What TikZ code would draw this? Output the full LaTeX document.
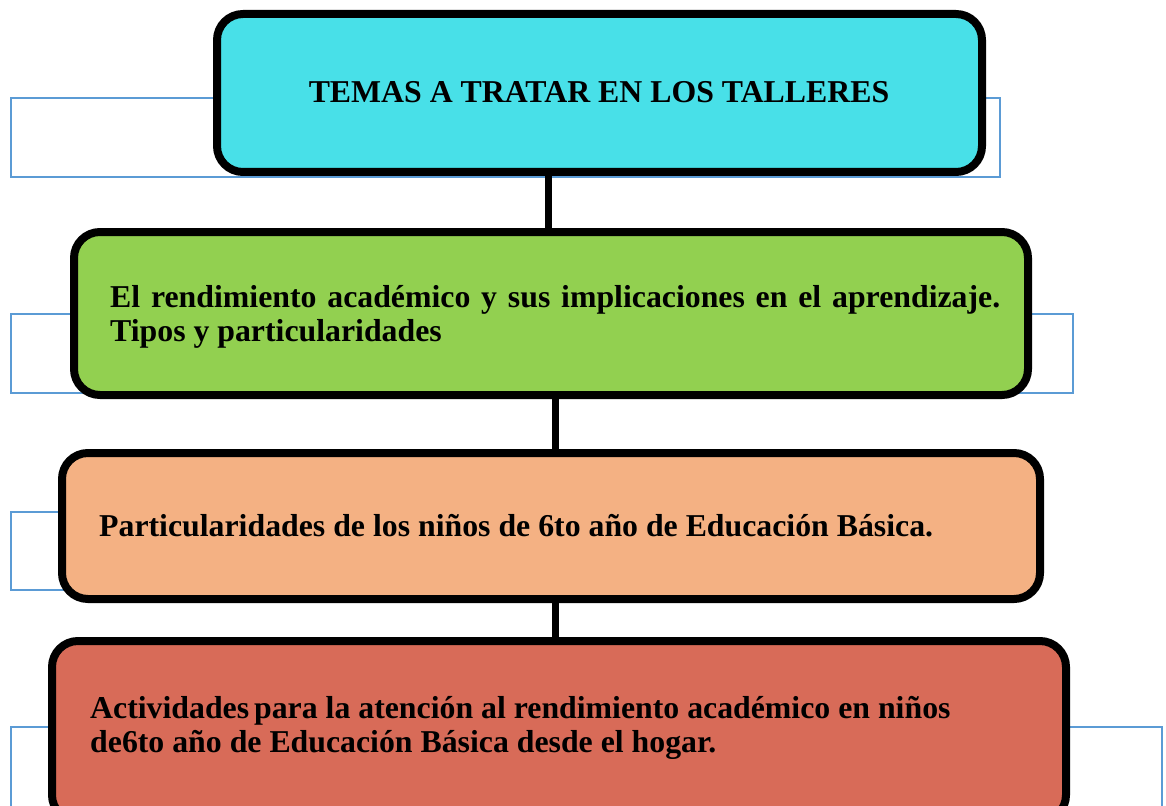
\documentclass[tikz,border=0pt]{standalone}
\usepackage{fontspec}
\setmainfont{Liberation Serif}
\definecolor{cyanbox}{HTML}{48E0E8}
\definecolor{greenbox}{HTML}{92D050}
\definecolor{orangebox}{HTML}{F4B183}
\definecolor{redbox}{HTML}{D86B58}
\definecolor{blueline}{HTML}{5B9BD5}
\tikzset{
  backrect/.style={draw=blueline, line width=2pt},
  topic/.style={draw=black, line width=8pt, rounded corners=26pt, inner sep=0pt},
  linkline/.style={draw=black, line width=7pt},
  topictext/.style={font=\bfseries\fontsize{31.8}{34}\selectfont, inner sep=0pt, align=left}
}
\begin{document}
\begin{tikzpicture}[x=1pt,y=-1pt]
\useasboundingbox (0,0) rectangle (1166,805);
\clip (0,0) rectangle (1166,805);
% background blue outlines
\draw[backrect] (11,98) rectangle (1000,177);
\draw[backrect] (11,314) rectangle (1073,393);
\draw[backrect] (11,512) rectangle (1000,590);
\draw[backrect] (11,727) rectangle (1162,830);
% boxes
\node[topic, fill=cyanbox, minimum width=765pt, minimum height=158pt] (b1) at (599.5,93) {};
\node[topic, fill=greenbox, minimum width=954pt, minimum height=163pt] (b2) at (551,313.5) {};
\node[topic, fill=orangebox, minimum width=978pt, minimum height=146pt] (b3) at (551,526) {};
\node[topic, fill=redbox, minimum width=1014pt, minimum height=180pt] (b4) at (559,731) {};
% connectors
\draw[linkline] (548,0 |- b1.south) -- (548,0 |- b2.north);
\draw[linkline] (555,0 |- b2.south) -- (555,0 |- b3.north);
\draw[linkline] (555,0 |- b3.south) -- (555,0 |- b4.north);
% texts
\node[topictext, anchor=center] (t1) at (599,92) {TEMAS A TRATAR EN LOS TALLERES};
\node[topictext, anchor=west] (t2) at (110,317) {\makebox[890pt][s]{El rendimiento académico y sus implicaciones en el aprendizaje.}\\Tipos y particularidades};
\node[topictext, anchor=west] (t3) at (99,526) {Particularidades de los niños de 6to año de Educación Básica.};
\node[topictext, anchor=west] (t4) at (90,728) {Actividades\hspace{-3pt} para la atención al rendimiento académico en niños\\de6to año de Educación Básica desde el hogar.};
\end{tikzpicture}
\end{document}
